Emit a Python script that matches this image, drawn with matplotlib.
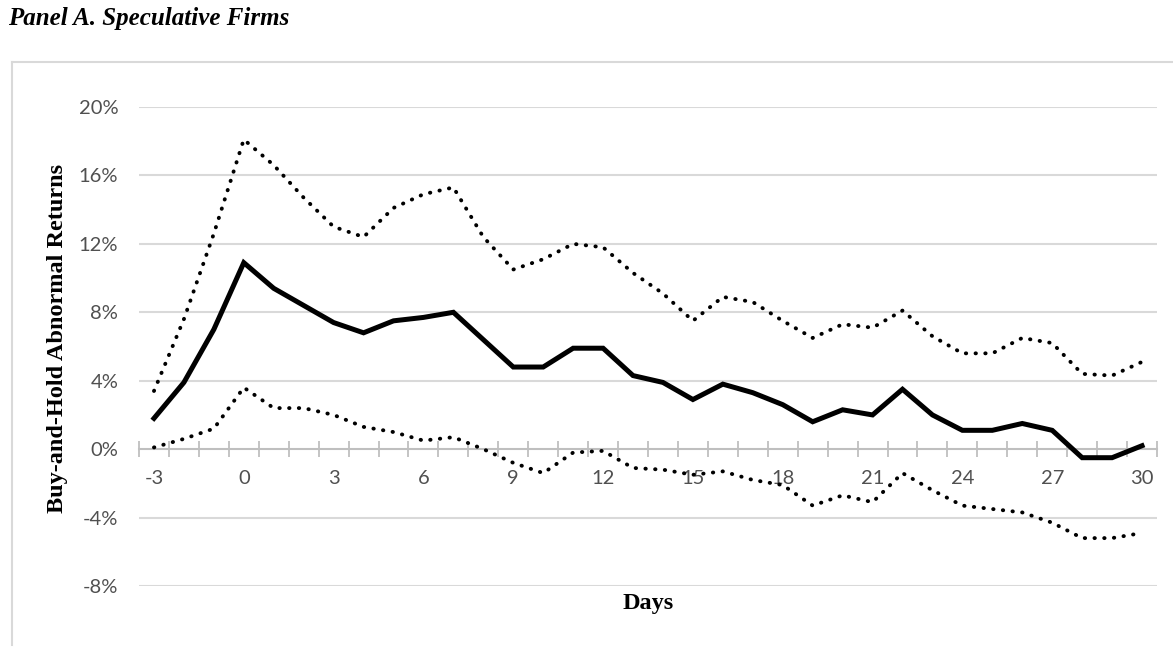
import numpy as np
import matplotlib
matplotlib.use('Agg')
from matplotlib import pyplot as plt
from matplotlib.lines import Line2D

days = list(range(-3, 31))

# buy-and-hold abnormal returns (%)
bhar = [1.8, 3.9, 7.0, 10.9, 9.4, 8.4, 7.4, 6.8, 7.5, 7.7, 8.0, 6.4,
        4.8, 4.8, 5.9, 5.9, 4.3, 3.9, 2.9, 3.8, 3.3, 2.6, 1.6, 2.3,
        2.0, 3.5, 2.0, 1.1, 1.1, 1.5, 1.1, -0.5, -0.5, 0.2]
upper = [3.4, 7.6, 12.6, 18.1, 16.6, 14.7, 13.0, 12.4, 14.1, 14.9, 15.3, 12.4,
         10.5, 11.1, 12.0, 11.8, 10.3, 9.1, 7.5, 8.9, 8.6, 7.5, 6.5, 7.3,
         7.1, 8.1, 6.6, 5.6, 5.6, 6.5, 6.2, 4.4, 4.3, 5.1]
lower = [0.1, 0.6, 1.2, 3.6, 2.4, 2.4, 2.0, 1.3, 1.0, 0.5, 0.7, 0.0,
         -0.8, -1.4, -0.2, -0.1, -1.1, -1.2, -1.5, -1.3, -1.8, -2.1, -3.3, -2.7,
         -3.1, -1.4, -2.4, -3.3, -3.5, -3.7, -4.3, -5.2, -5.2, -4.9]

yticks = [-8, -4, 0, 4, 8, 12, 16, 20]
xlabels = list(range(-3, 31, 3))

W, H = 1173, 653
fig = plt.figure(figsize=(W / 100, H / 100), dpi=100)
ax = fig.add_axes([139 / W, 1 - 586 / H, (1157 - 139) / W, (586 - 107) / H])

# chart frame (light grey, cut at right edge)
fig.add_artist(Line2D([12 / W, 12 / W], [1 - 645 / H, 1 - 62 / H], color='#d9d9d9', lw=1.5,
                      transform=fig.transFigure))
fig.add_artist(Line2D([12 / W, 1.0], [1 - 62 / H, 1 - 62 / H], color='#d9d9d9', lw=1.5,
                      transform=fig.transFigure))

for y in yticks:
    if y != 0:
        ax.axhline(y, color='#d9d9d9', lw=1.5, zorder=0)

ax.plot(days, upper, color='black', lw=2.8, linestyle=(0, (0.1, 2.4)),
        dash_capstyle='round', zorder=3)
ax.plot(days, lower, color='black', lw=2.8, linestyle=(0, (0.1, 2.4)),
        dash_capstyle='round', zorder=3)
ax.plot(days, bhar, color='black', lw=3.6, solid_joinstyle='miter', zorder=4)

ax.set_xlim(-3.5, 30.5)
ax.set_ylim(-8, 20)

for s in ['top', 'right', 'left']:
    ax.spines[s].set_visible(False)
ax.spines['bottom'].set_position(('data', 0))
ax.spines['bottom'].set_color('#bfbfbf')
ax.spines['bottom'].set_linewidth(1.5)

ax.set_xticks(np.arange(-3.5, 31, 1))
ax.set_xticklabels([])
ax.tick_params(axis='x', which='major', direction='inout', length=12, width=1.3, color='#bfbfbf')
ax.set_xticks(xlabels, minor=True)
ax.set_xticklabels([str(x) for x in xlabels], minor=True, family='Lato', fontsize=14.5, color='#505050')
ax.tick_params(axis='x', which='minor', length=0, pad=15)

ax.set_yticks(yticks)
ax.set_yticklabels([f'{y}%' for y in yticks], family='Lato', fontsize=14.5, color='#505050')
ax.tick_params(axis='y', length=0, pad=15)

fig.text(8 / W, 1 - 18 / H, 'Panel A. Speculative Firms', family='Liberation Serif',
         fontweight='bold', fontstyle='italic', fontsize=18, ha='left', va='center')
fig.text(58 / W, 1 - 338 / H, 'Buy-and-Hold Abnormal Returns', family='Liberation Serif',
         fontweight='bold', fontsize=17.5, rotation=90, ha='center', va='center')
fig.text(648 / W, 1 - 604 / H, 'Days', family='Liberation Serif',
         fontweight='bold', fontsize=17.5, ha='center', va='center')

fig.savefig('out.png', dpi=100, facecolor='white')
